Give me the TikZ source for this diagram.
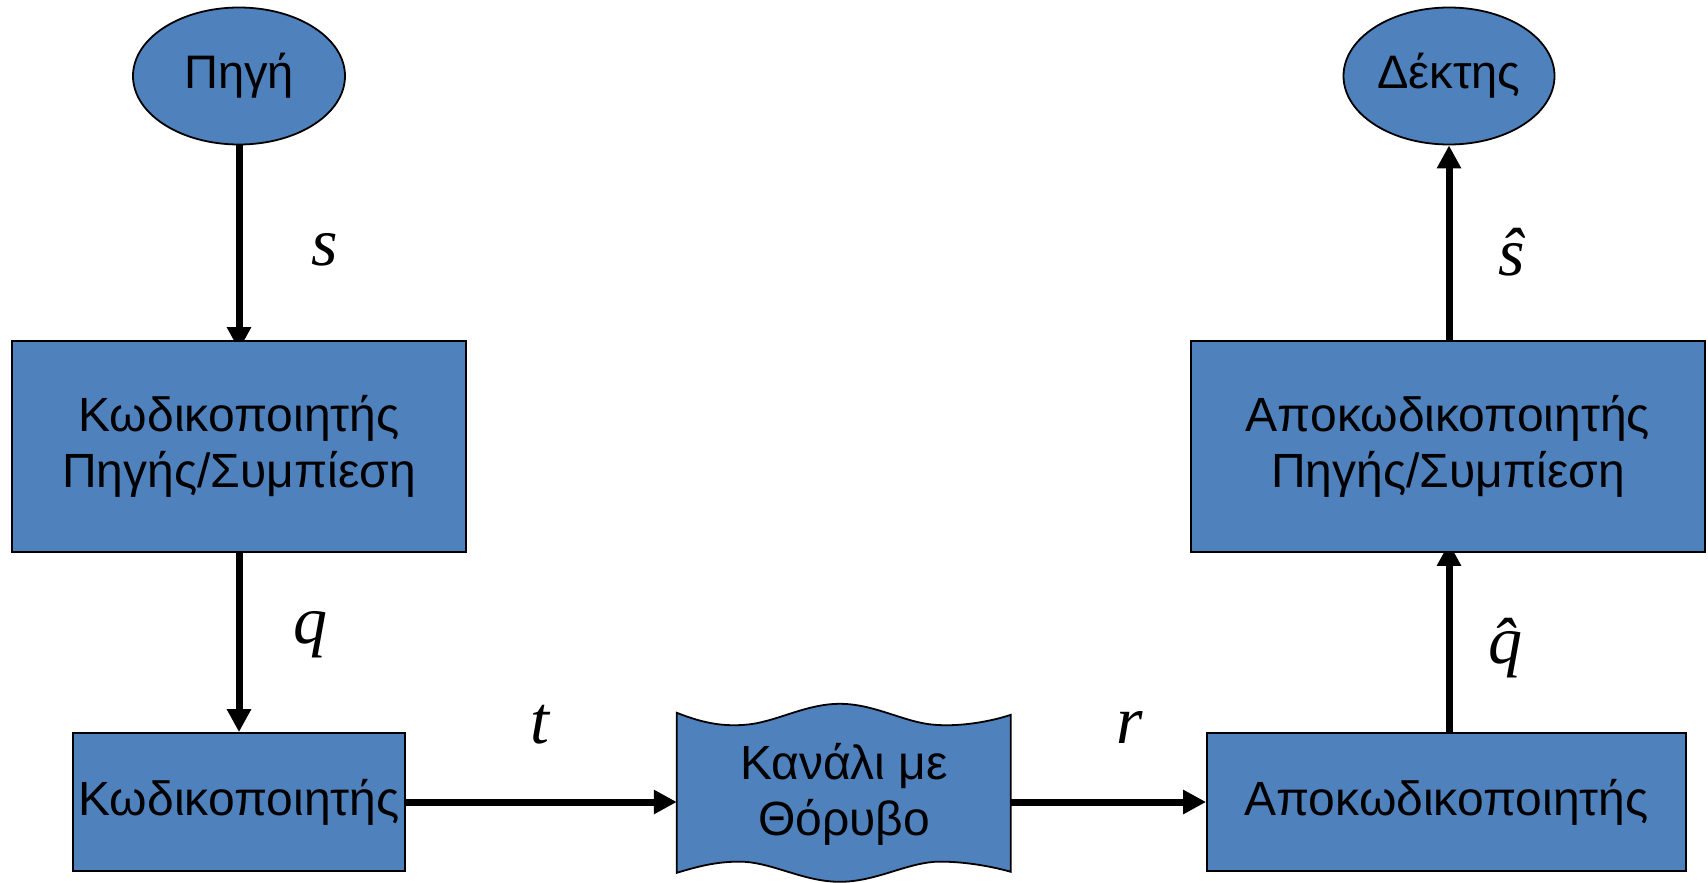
\documentclass[tikz,border=0pt]{standalone}
\usepackage{fontspec}
\setmainfont{Liberation Sans}
\newfontfamily\mathlike{Liberation Serif}
\usetikzlibrary{shapes.geometric,arrows.meta}
\pgfdeclarelayer{bg}
\pgfdeclarelayer{paper}
\pgfsetlayers{paper,bg,main}
\tikzset{
  blockfill/.style={fill=blk, draw=black, line width=1.8pt},
  boxnode/.style={blockfill, rectangle, inner sep=0pt, align=center,
     font=\fontsize{48}{56}\selectfont},
  ellnode/.style={blockfill, ellipse, inner sep=0pt,
     font=\fontsize{47}{54}\selectfont},
  arr/.style={line width=7pt, -{Triangle[length=23pt,width=23pt]}},
  sym/.style={font=\fontsize{68}{72}\selectfont\mathlike\itshape, inner sep=0pt}
}
\definecolor{blk}{RGB}{79,129,189}
\begin{document}
\begin{tikzpicture}[x=1pt,y=-1pt]
\begin{pgfonlayer}{paper}
\fill[white] (0,0) rectangle (1708,883);
\end{pgfonlayer}
\useasboundingbox (0,0) rectangle (1708,883);
% nodes
\node[ellnode, minimum width=212pt, minimum height=137pt] (src) at (239,76) {Πηγή};
\node[ellnode, minimum width=211pt, minimum height=137pt] (dst) at (1449,76) {Δέκτης};
\node[boxnode, minimum width=454pt, minimum height=211pt] (enc1) at (239,446.5) {Κωδικοποιητής\\Πηγής/Συμπίεση};
\node[boxnode, minimum width=332pt, minimum height=138pt] (enc2) at (239,802) {Κωδικοποιητής};
\node[boxnode, minimum width=514pt, minimum height=211pt] (dec1) at (1448,446.5) {Αποκωδικοποιητής\\Πηγής/Συμπίεση};
\node[boxnode, minimum width=479pt, minimum height=138pt] (dec2) at (1446.5,802) {Αποκωδικοποιητής};
\node[rectangle, inner sep=0pt, align=center, font=\fontsize{48}{56}\selectfont,
      minimum width=334pt, minimum height=160pt] (chan) at (844,794) {Κανάλι με\\Θόρυβο};
% labels
\node[sym] (ls) at (325,250) {s};
\node[sym] (lq) at (310,635) {q};
\node[sym] (lt) at (540,725) {t};
\node[sym] (lr) at (1130,727) {r};
\node[sym] (lqh) at (1505,648) {\^q};
\node[sym] (lsh) at (1512,252) {\^s};
\begin{pgfonlayer}{bg}
% channel (punched tape shape)
\draw[blockfill] (chan.north west) ++(0,-1)
  .. controls +(23,9) and +(-25,2) .. ++(68,12)
  .. controls +(30,-2) and +(-35,0) .. ++(95,-21)
  .. controls +(35,0) and +(-30,-2) .. ++(95,21)
  .. controls +(25,2) and +(-21,7) .. ++(76,-10)
  -- ++(0,157)
  .. controls +(-21,-6) and +(25,-1) .. ++(-76,-10)
  .. controls +(-30,2) and +(35,0) .. ++(-95,20)
  .. controls +(-35,0) and +(30,2) .. ++(-95,-20)
  .. controls +(-25,-1) and +(23,-7) .. ++(-68,11)
  -- cycle;
% connectors
\draw[arr, shorten >=-10pt] (src.south) -- (enc1.north);
\draw[arr] (enc1.south) -- (enc2.north);
\draw[arr] (enc2.east) -- (enc2.east -| chan.west);
\draw[arr] (enc2.east -| chan.east) -- (dec2.west);
\draw[arr, shorten >=-10pt] (dec2.north -| dst.south) -- (dec1.south -| dst.south);
\draw[arr] (dec1.north -| dst.south) -- (dst.south);
\end{pgfonlayer}
\end{tikzpicture}
\end{document}
